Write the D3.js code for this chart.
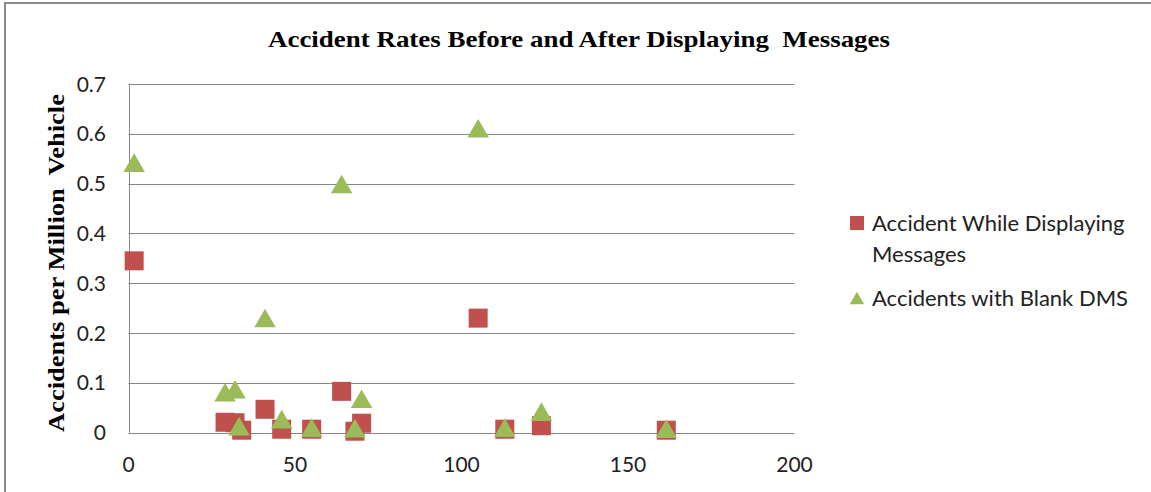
<!DOCTYPE html>
<html>
<head>
<meta charset="utf-8">
<script src="https://cdn.jsdelivr.net/npm/d3@7"></script>
<style>
  body { margin: 0; background: white; }
  svg { display: block; }
</style>
</head>
<body>
<div id="chart"></div>
<script>
// data
var xValues   = [1.7, 29, 32, 34, 41, 46, 55, 64, 68, 70, 105, 113, 124, 161.5];
var withMsg   = [0.345, 0.021, 0.02, 0.005, 0.047, 0.007, 0.007, 0.083, 0.003, 0.019, 0.23, 0.007, 0.014, 0.005];
var blankXs   = [1.7, 29, 32, 33.2, 41, 46, 55, 64, 68, 70, 105, 113, 124, 161.5];
var blankDms  = [0.54, 0.079, 0.085, 0.011, 0.228, 0.025, 0.008, 0.497, 0.007, 0.066, 0.609, 0.008, 0.04, 0.006];
var yTicks = [0, 0.1, 0.2, 0.3, 0.4, 0.5, 0.6, 0.7];
var xTicks = [0, 50, 100, 150, 200];
var seriesNames = ["Accident While Displaying|Messages", "Accidents with Blank DMS"];

var W = 1151, H = 492;
var red = "#C0504D", green = "#9BBB59";

var svg = d3.select("#chart").append("svg")
  .attr("width", W).attr("height", H);

svg.append("rect").attr("x", 0).attr("y", 0).attr("width", W).attr("height", H).attr("fill", "white");
// outer chart border (right/bottom fall outside the picture)
svg.append("rect")
  .attr("x", 5).attr("y", 3).attr("width", W + 20).attr("height", H + 20)
  .attr("fill", "none").attr("stroke", "#8c8c8c").attr("stroke-width", 2);

var x = d3.scaleLinear().domain([0, 200]).range([128.5, 794.5]);
var y = d3.scaleLinear().domain([0, 0.7]).range([432.7, 84]);

// gridlines
svg.append("g").selectAll("line").data(yTicks).join("line")
  .attr("x1", x(0)).attr("x2", x(200))
  .attr("y1", d => Math.round(y(d)) + 0.5).attr("y2", d => Math.round(y(d)) + 0.5)
  .attr("stroke", "#868686").attr("stroke-width", 1);
svg.append("line")
  .attr("x1", Math.round(x(0)) + 0.5).attr("x2", Math.round(x(0)) + 0.5)
  .attr("y1", y(0.7)).attr("y2", y(0))
  .attr("stroke", "#868686").attr("stroke-width", 1);

var tickFont = "Lato, 'Open Sans', sans-serif";
svg.append("g").selectAll("text").data(yTicks).join("text")
  .attr("x", 106).attr("y", d => y(d))
  .attr("dy", "0.36em").attr("text-anchor", "end")
  .attr("font-family", tickFont).attr("font-size", 21).attr("fill", "#222")
  .text(d => d);
svg.append("g").selectAll("text").data(xTicks).join("text")
  .attr("x", d => x(d)).attr("y", 472)
  .attr("text-anchor", "middle")
  .attr("font-family", tickFont).attr("font-size", 21).attr("fill", "#222")
  .text(d => d);

// title and axis label
svg.append("text")
  .attr("x", 268).attr("y", 47)
  .attr("font-family", "'Liberation Serif', 'Times New Roman', serif")
  .attr("font-weight", "bold").attr("font-size", 24)
  .attr("textLength", 622).attr("lengthAdjust", "spacingAndGlyphs")
  .style("white-space", "pre")
  .text("Accident Rates Before and After Displaying  Messages");
svg.append("text")
  .attr("transform", "translate(64,432) rotate(-90)")
  .attr("font-family", "'Liberation Serif', 'Times New Roman', serif")
  .attr("font-weight", "bold").attr("font-size", 24)
  .attr("textLength", 338).attr("lengthAdjust", "spacingAndGlyphs")
  .style("white-space", "pre")
  .text("Accidents per Million  Vehicle");

// markers
var sq = 19;
svg.append("g").selectAll("rect").data(xValues.map((d, i) => [d, withMsg[i]])).join("rect")
  .attr("x", d => x(d[0]) - sq / 2).attr("y", d => y(d[1]) - sq / 2)
  .attr("width", sq).attr("height", sq)
  .attr("fill", red);
var tri = d3.symbol().type(d3.symbolTriangle).size(200);
svg.append("g").selectAll("path").data(blankXs.map((d, i) => [d, blankDms[i]])).join("path")
  .attr("transform", d => "translate(" + x(d[0]) + "," + (y(d[1]) + 2) + ")")
  .attr("d", tri)
  .attr("fill", green);

// legend
var lg = svg.append("g");
var legFont = 22;
lg.append("rect").attr("x", 850).attr("y", 216).attr("width", 14).attr("height", 14).attr("fill", red);
lg.append("text").attr("x", 872).attr("y", 223).attr("dy", "0.36em")
  .attr("font-family", tickFont).attr("font-size", legFont).attr("fill", "#222")
  .text(seriesNames[0].split("|")[0]);
lg.append("text").attr("x", 872).attr("y", 254).attr("dy", "0.36em")
  .attr("font-family", tickFont).attr("font-size", legFont).attr("fill", "#222")
  .text(seriesNames[0].split("|")[1]);
lg.append("path").attr("transform", "translate(857,300)")
  .attr("d", d3.symbol().type(d3.symbolTriangle).size(90)).attr("fill", green);
lg.append("text").attr("x", 872).attr("y", 298).attr("dy", "0.36em")
  .attr("font-family", tickFont).attr("font-size", legFont).attr("fill", "#222")
  .text(seriesNames[1]);
</script>
</body>
</html>
